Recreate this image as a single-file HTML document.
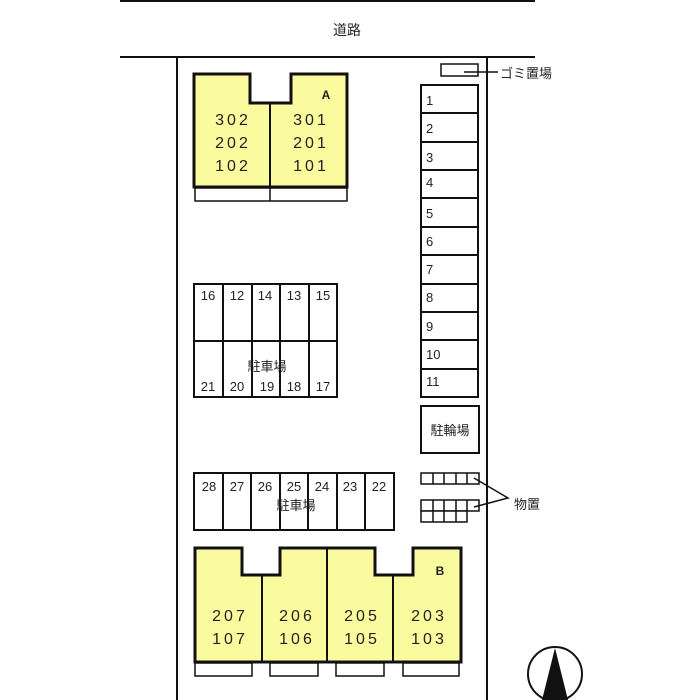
<!DOCTYPE html>
<html><head><meta charset="utf-8"><style>body{margin:0;background:#fff}svg{display:block}text{font-family:"Liberation Sans","Noto Sans CJK JP",sans-serif;fill:#222}</style></head>
<body><svg width="700" height="700" viewBox="0 0 700 700" xmlns="http://www.w3.org/2000/svg">
<g stroke="#111" fill="none" stroke-width="2">
<line x1="120" y1="1" x2="535" y2="1"/>
<line x1="120" y1="57" x2="535" y2="57"/>
<line x1="177" y1="57" x2="177" y2="700"/>
<line x1="487" y1="57" x2="487" y2="700"/>
</g>
<text x="347" y="35" font-size="14" text-anchor="middle">道路</text>
<!-- Building A -->
<path d="M194,74 H250 V103 H291 V74 H347 V187 H194 Z" fill="#fafa9e" stroke="#111" stroke-width="3"/>
<line x1="270" y1="103" x2="270" y2="187" stroke="#111" stroke-width="2"/>
<rect x="195" y="188" width="152" height="13" fill="#fff" stroke="#111" stroke-width="1.5"/>
<line x1="270" y1="188" x2="270" y2="201" stroke="#111" stroke-width="1.5"/>
<g font-size="16" text-anchor="middle" letter-spacing="3">
<text x="233" y="125">302</text><text x="233" y="148">202</text><text x="233" y="171">102</text>
<text x="311" y="125">301</text><text x="311" y="148">201</text><text x="311" y="171">101</text>
</g>
<text x="326" y="99" font-size="12" font-weight="bold" text-anchor="middle">A</text>
<!-- garbage -->
<rect x="441" y="64" width="37" height="12" fill="#fff" stroke="#111" stroke-width="1.5"/>
<line x1="464" y1="72" x2="498" y2="72" stroke="#111" stroke-width="1.5"/>
<text x="500" y="78" font-size="13">ゴミ置場</text>
<!-- parking column -->
<g stroke="#111" stroke-width="2" fill="#fff">
<rect x="421" y="85" width="57" height="312"/>
<line x1="421" y1="113" x2="478" y2="113"/><line x1="421" y1="142" x2="478" y2="142"/><line x1="421" y1="170" x2="478" y2="170"/><line x1="421" y1="198" x2="478" y2="198"/><line x1="421" y1="227" x2="478" y2="227"/><line x1="421" y1="255" x2="478" y2="255"/><line x1="421" y1="284" x2="478" y2="284"/><line x1="421" y1="312" x2="478" y2="312"/><line x1="421" y1="340" x2="478" y2="340"/><line x1="421" y1="369" x2="478" y2="369"/>
</g>
<g font-size="13">
<text x="426" y="105">1</text><text x="426" y="133">2</text><text x="426" y="162">3</text><text x="426" y="187">4</text><text x="426" y="218">5</text><text x="426" y="246">6</text><text x="426" y="274">7</text><text x="426" y="302">8</text><text x="426" y="331">9</text><text x="426" y="359">10</text><text x="426" y="386">11</text>
</g>
<rect x="421" y="406" width="58" height="47" fill="#fff" stroke="#111" stroke-width="2"/>
<text x="450" y="435" font-size="13" text-anchor="middle">駐輪場</text>
<!-- parking 12-21 -->
<g stroke="#111" stroke-width="2" fill="none">
<rect x="194" y="284" width="143" height="113"/>
<line x1="223" y1="284" x2="223" y2="397"/><line x1="252" y1="284" x2="252" y2="397"/><line x1="280" y1="284" x2="280" y2="397"/><line x1="309" y1="284" x2="309" y2="397"/>
<line x1="194" y1="341" x2="337" y2="341"/>
</g>
<g font-size="13" text-anchor="middle">
<text x="208" y="300">16</text><text x="237" y="300">12</text><text x="265" y="300">14</text><text x="294" y="300">13</text><text x="323" y="300">15</text>
<text x="208" y="391">21</text><text x="237" y="391">20</text><text x="267" y="391">19</text><text x="294" y="391">18</text><text x="323" y="391">17</text>
<text x="267" y="371">駐車場</text>
</g>
<!-- parking 22-28 -->
<g stroke="#111" stroke-width="2" fill="none">
<rect x="194" y="473" width="200" height="57"/>
<line x1="223" y1="473" x2="223" y2="530"/><line x1="251" y1="473" x2="251" y2="530"/><line x1="280" y1="473" x2="280" y2="530"/><line x1="308" y1="473" x2="308" y2="530"/><line x1="337" y1="473" x2="337" y2="530"/><line x1="365" y1="473" x2="365" y2="530"/>
</g>
<g font-size="13" text-anchor="middle">
<text x="209" y="491">28</text><text x="237" y="491">27</text><text x="265" y="491">26</text><text x="294" y="491">25</text><text x="322" y="491">24</text><text x="350" y="491">23</text><text x="379" y="491">22</text>
<text x="296" y="510">駐車場</text>
</g>
<!-- storage -->
<g stroke="#111" stroke-width="1.5" fill="#fff">
<rect x="421" y="473" width="58" height="11"/>
<line x1="433" y1="473" x2="433" y2="484"/><line x1="444" y1="473" x2="444" y2="484"/><line x1="456" y1="473" x2="456" y2="484"/><line x1="467" y1="473" x2="467" y2="484"/>
<rect x="421" y="500" width="58" height="11"/>
<rect x="421" y="511" width="46" height="11"/>
<line x1="433" y1="500" x2="433" y2="522"/><line x1="444" y1="500" x2="444" y2="522"/><line x1="456" y1="500" x2="456" y2="522"/><line x1="467" y1="500" x2="467" y2="511"/>
<polyline points="474,478 508,498 474,507" fill="none"/>
</g>
<text x="514" y="509" font-size="13">物置</text>
<!-- Building B -->
<path d="M195,548 H242 V575 H280 V548 H375 V575 H413 V548 H461 V662 H195 Z" fill="#fafa9e" stroke="#111" stroke-width="3"/>
<g stroke="#111" stroke-width="2"><line x1="262" y1="575" x2="262" y2="662"/><line x1="327" y1="548" x2="327" y2="662"/><line x1="393" y1="575" x2="393" y2="662"/></g>
<g fill="#fff" stroke="#111" stroke-width="1.5">
<rect x="195" y="663" width="57" height="13"/><rect x="270" y="663" width="48" height="13"/><rect x="336" y="663" width="48" height="13"/><rect x="403" y="663" width="56" height="13"/>
</g>
<g font-size="16" text-anchor="middle" letter-spacing="3">
<text x="230" y="621">207</text><text x="230" y="644">107</text>
<text x="297" y="621">206</text><text x="297" y="644">106</text>
<text x="362" y="621">205</text><text x="362" y="644">105</text>
<text x="429" y="621">203</text><text x="429" y="644">103</text>
</g>
<text x="440" y="575" font-size="12" font-weight="bold" text-anchor="middle">B</text>
<!-- north -->
<circle cx="555" cy="674" r="27" fill="#fff" stroke="#111" stroke-width="2"/>
<polygon points="555,648 542,700 568,700" fill="#111"/>
</svg></body></html>
